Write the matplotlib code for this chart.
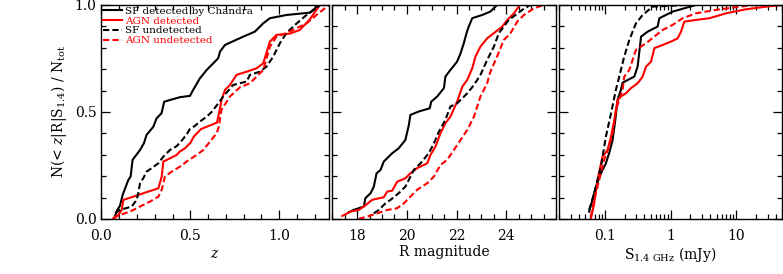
import matplotlib
matplotlib.use("Agg")
import matplotlib.pyplot as plt
from matplotlib.ticker import MultipleLocator, FixedLocator, NullFormatter, LogLocator, FixedFormatter, FormatStrFormatter

plt.rcParams['font.family'] = ['DejaVu Serif']
plt.rcParams['mathtext.fontset'] = 'dejavuserif'
plt.rcParams['font.size'] = 10

# ---- Panel 1: redshift ----
z_sf_det_x = [0.072, 0.089, 0.104, 0.119, 0.151, 0.164, 0.175, 0.217, 0.239, 0.254, 0.292, 0.310, 0.338, 0.353,
              0.442, 0.498, 0.516, 0.554, 0.592, 0.657, 0.667, 0.695, 0.798, 0.863, 0.910, 0.948, 1.041, 1.173, 1.201, 1.220]
z_sf_det_y = [0.003, 0.042, 0.061, 0.112, 0.182, 0.198, 0.276, 0.322, 0.354, 0.393, 0.431, 0.470, 0.494, 0.548,
              0.569, 0.575, 0.603, 0.657, 0.696, 0.751, 0.782, 0.813, 0.852, 0.875, 0.914, 0.938, 0.953, 0.964, 0.984, 1.0]

z_agn_det_x = [0.066, 0.095, 0.114, 0.123, 0.179, 0.235, 0.320, 0.339, 0.348, 0.385, 0.423, 0.441, 0.470, 0.500,
               0.520, 0.560, 0.650, 0.663, 0.676, 0.695, 0.723, 0.760, 0.817, 0.873, 0.910, 0.948, 0.985, 1.060,
               1.116, 1.170, 1.210, 1.225]
z_agn_det_y = [0.003, 0.019, 0.042, 0.089, 0.104, 0.120, 0.143, 0.198, 0.268, 0.283, 0.299, 0.315, 0.330, 0.355,
               0.385, 0.420, 0.450, 0.500, 0.556, 0.603, 0.626, 0.673, 0.688, 0.704, 0.727, 0.829, 0.860, 0.866,
               0.883, 0.930, 0.977, 0.995]

z_sf_und_x = [0.076, 0.104, 0.170, 0.198, 0.207, 0.217, 0.235, 0.254, 0.282, 0.320, 0.348, 0.385, 0.423, 0.451,
              0.479, 0.498, 0.526, 0.554, 0.592, 0.620, 0.648, 0.685, 0.741, 0.817, 0.835, 0.891, 0.929, 0.966,
              1.004, 1.040, 1.088, 1.154, 1.210, 1.230]
z_sf_und_y = [0.027, 0.042, 0.058, 0.089, 0.120, 0.167, 0.190, 0.221, 0.237, 0.260, 0.291, 0.322, 0.340, 0.365,
              0.395, 0.420, 0.435, 0.455, 0.478, 0.500, 0.530, 0.572, 0.626, 0.642, 0.673, 0.688, 0.712, 0.758,
              0.821, 0.868, 0.906, 0.953, 0.985, 1.0]

z_agn_und_x = [0.066, 0.104, 0.160, 0.217, 0.273, 0.320, 0.339, 0.357, 0.395, 0.441, 0.479, 0.535, 0.573, 0.610,
               0.648, 0.660, 0.675, 0.723, 0.779, 0.835, 0.873, 0.910, 0.929, 0.948, 0.985, 1.040, 1.097, 1.154,
               1.210, 1.280]
z_agn_und_y = [0.003, 0.019, 0.034, 0.058, 0.081, 0.104, 0.136, 0.198, 0.221, 0.244, 0.268, 0.299, 0.322, 0.361,
               0.400, 0.430, 0.509, 0.572, 0.615, 0.634, 0.665, 0.696, 0.750, 0.805, 0.852, 0.868, 0.891, 0.914,
               0.953, 1.0]

# ---- Panel 2: R magnitude ----
r_sf_det_x = [17.66, 17.86, 18.27, 18.33, 18.54, 18.67, 18.78, 18.94, 19.07, 19.41, 19.67, 19.94, 20.08, 20.14,
              20.48, 20.92, 20.98, 21.22, 21.49, 21.55, 21.75, 22.02, 22.16, 22.29, 22.40, 22.49, 22.63, 23.03,
              23.36, 23.63]
r_sf_det_y = [0.031, 0.042, 0.058, 0.097, 0.120, 0.151, 0.213, 0.229, 0.268, 0.307, 0.330, 0.369, 0.439, 0.486,
              0.502, 0.517, 0.548, 0.572, 0.611, 0.665, 0.696, 0.735, 0.774, 0.821, 0.868, 0.899, 0.938, 0.953,
              0.969, 1.0]

r_agn_det_x = [17.40, 17.73, 18.06, 18.27, 18.60, 18.74, 19.07, 19.21, 19.41, 19.61, 19.94, 20.14, 20.41, 20.82,
               20.95, 21.15, 21.35, 21.55, 21.75, 22.02, 22.23, 22.43, 22.63, 22.76, 22.96, 23.23, 23.50, 23.84,
               24.04, 24.31, 24.51]
r_agn_det_y = [0.014, 0.034, 0.042, 0.058, 0.089, 0.093, 0.101, 0.128, 0.132, 0.174, 0.190, 0.213, 0.237, 0.260,
               0.299, 0.338, 0.400, 0.447, 0.478, 0.548, 0.618, 0.650, 0.704, 0.759, 0.805, 0.844, 0.868, 0.899,
               0.930, 0.961, 0.995]

r_sf_und_x = [18.67, 18.87, 19.14, 19.34, 19.67, 19.94, 20.28, 20.55, 20.88, 21.09, 21.29, 21.55, 21.75, 22.02,
              22.43, 22.70, 22.96, 23.23, 23.50, 23.70, 23.90, 24.10, 24.37, 24.64, 24.97]
r_sf_und_y = [0.026, 0.042, 0.073, 0.089, 0.120, 0.151, 0.229, 0.260, 0.307, 0.354, 0.408, 0.463, 0.525, 0.540,
              0.587, 0.626, 0.673, 0.743, 0.805, 0.868, 0.899, 0.930, 0.953, 0.977, 1.0]

r_agn_und_x = [18.06, 18.40, 18.81, 19.21, 19.61, 19.88, 20.14, 20.41, 20.82, 21.09, 21.35, 21.62, 21.89, 22.16,
               22.43, 22.70, 22.96, 23.23, 23.36, 23.63, 23.90, 24.17, 24.44, 24.71, 25.11, 25.51]
r_agn_und_y = [0.0, 0.011, 0.026, 0.042, 0.050, 0.073, 0.104, 0.136, 0.167, 0.198, 0.252, 0.276, 0.322, 0.369,
               0.416, 0.478, 0.572, 0.634, 0.688, 0.759, 0.836, 0.868, 0.922, 0.953, 0.984, 1.0]

# ---- Panel 3: 1.4 GHz flux (mJy) ----
s_sf_det_x = [0.0575, 0.0647, 0.073, 0.087, 0.1035, 0.116, 0.131, 0.144, 0.156, 0.175, 0.186, 0.28, 0.315, 0.355,
              0.447, 0.635, 0.675, 1.08, 2.45]
s_sf_det_y = [0.034, 0.089, 0.151, 0.213, 0.260, 0.307, 0.369, 0.463, 0.556, 0.603, 0.637, 0.665, 0.712, 0.852,
              0.875, 0.899, 0.938, 0.969, 1.0]

s_sf_und_x = [0.0575, 0.0687, 0.087, 0.1035, 0.124, 0.147, 0.175, 0.197, 0.235, 0.297, 0.375, 0.533, 0.853, 1.73]
s_sf_und_y = [0.042, 0.120, 0.243, 0.385, 0.494, 0.603, 0.696, 0.759, 0.836, 0.914, 0.953, 0.992, 0.995, 1.0]

s_agn_det_x = [0.0611, 0.0687, 0.077, 0.092, 0.1096, 0.124, 0.139, 0.156, 0.175, 0.209, 0.249, 0.315, 0.375, 0.423,
               0.504, 0.566, 0.757, 1.02, 1.28, 1.44, 1.62, 2.45, 3.91, 7.03, 14.2, 28.7, 51.0]
s_agn_det_y = [0.0, 0.073, 0.182, 0.291, 0.322, 0.385, 0.463, 0.556, 0.572, 0.587, 0.611, 0.634, 0.665, 0.712,
               0.735, 0.798, 0.813, 0.829, 0.844, 0.875, 0.922, 0.930, 0.938, 0.961, 0.980, 0.992, 1.0]

s_agn_und_x = [0.0611, 0.0687, 0.0818, 0.0975, 0.116, 0.131, 0.147, 0.165, 0.186, 0.197, 0.235, 0.297, 0.423, 0.566,
               0.757, 1.08, 1.53, 2.45, 4.96, 11.2, 20.2, 51.0]
s_agn_und_y = [0.011, 0.089, 0.182, 0.276, 0.338, 0.400, 0.509, 0.556, 0.603, 0.665, 0.696, 0.790, 0.821, 0.852,
               0.883, 0.907, 0.938, 0.961, 0.977, 0.992, 1.0, 1.0]

labels = ["SF detected by Chandra", "AGN detected", "SF undetected", "AGN undetected"]
r_ticks = [18, 20, 22, 24]
s_ticks = [0.1, 1, 10]
s_ticklabels = ['0.1', '1', '10']

fig = plt.figure(figsize=(7.83, 2.74), dpi=100)
bottom, top = 0.201, 0.982
ax1 = fig.add_axes([0.1296, bottom, 0.2905, top - bottom])
ax2 = fig.add_axes([0.4244, bottom, 0.2857, top - bottom])
ax3 = fig.add_axes([0.7139, bottom, 0.2851, top - bottom])

lw = 1.5
colors = ['black', 'red', 'black', 'red']
dashed = [False, False, True, True]

def draw(ax, data):
    for (x, y), c, d, lab in zip(data, colors, dashed, labels):
        line, = ax.plot(x, y, lw=lw, label=lab, color=c)
        if d:
            line.set_dashes((3, 1.5))

draw(ax1, [(z_sf_det_x, z_sf_det_y), (z_agn_det_x, z_agn_det_y), (z_sf_und_x, z_sf_und_y), (z_agn_und_x, z_agn_und_y)])
draw(ax2, [(r_sf_det_x, r_sf_det_y), (r_agn_det_x, r_agn_det_y), (r_sf_und_x, r_sf_und_y), (r_agn_und_x, r_agn_und_y)])
draw(ax3, [(s_sf_det_x, s_sf_det_y), (s_agn_det_x, s_agn_det_y), (s_sf_und_x, s_sf_und_y), (s_agn_und_x, s_agn_und_y)])

ax1.set_xlim(0, 1.28)
ax2.set_xlim(17, 26)
ax3.set_xscale('log')
ax3.set_xlim(0.02, 50)

for ax in (ax1, ax2, ax3):
    ax.set_ylim(0, 1.0)
    ax.yaxis.set_major_locator(FixedLocator([0.0, 0.5, 1.0]))
    ax.yaxis.set_minor_locator(MultipleLocator(0.1))
    ax.tick_params(which='both', direction='in', top=True, right=True, labelsize=10)
    ax.tick_params(which='major', length=6.5, width=0.9)
    ax.tick_params(which='minor', length=3.5, width=0.9)
    ax.tick_params(axis='x', which='major', pad=7)
    for s in ax.spines.values():
        s.set_linewidth(1.0)

ax1.xaxis.set_major_locator(MultipleLocator(0.5))
ax1.xaxis.set_minor_locator(MultipleLocator(0.1))
ax1.yaxis.set_major_formatter(FormatStrFormatter('%.1f'))
ax1.xaxis.set_major_formatter(FormatStrFormatter('%.1f'))
ax2.xaxis.set_major_locator(FixedLocator(r_ticks))
ax2.xaxis.set_minor_locator(MultipleLocator(0.5))
ax2.yaxis.set_major_formatter(NullFormatter())
ax3.yaxis.set_major_formatter(NullFormatter())
ax3.xaxis.set_major_locator(FixedLocator(s_ticks))
ax3.xaxis.set_major_formatter(FixedFormatter(s_ticklabels))
ax3.xaxis.set_minor_locator(LogLocator(base=10, subs=range(2, 10)))
ax3.xaxis.set_minor_formatter(NullFormatter())

ax1.set_xlabel(r'$z$', labelpad=3)
ax2.set_xlabel('R magnitude', labelpad=2)
ax3.set_xlabel(r'S$_{\rm 1.4\ GHz}$ (mJy)', labelpad=2)
ax1.set_ylabel(r'N(< $z$|R|S$_{1.4}$) / N$_{\rm tot}$', labelpad=4)

leg = ax1.legend(loc='upper left', frameon=False, fontsize=7.5, handlelength=1.8, handletextpad=0.3,
                 labelspacing=0.05, borderaxespad=0.0, borderpad=0.15)
for txt, c in zip(leg.get_texts(), colors):
    txt.set_color(c)

fig.savefig('out.png', dpi=100)
